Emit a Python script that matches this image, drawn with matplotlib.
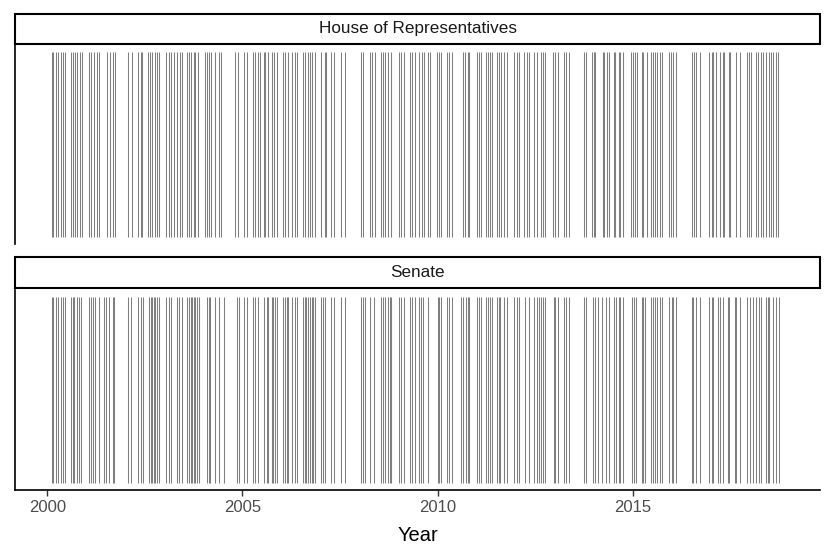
import matplotlib.pyplot as plt
from matplotlib.patches import Rectangle

plt.rcParams['font.family'] = ['Liberation Sans', 'DejaVu Sans']

# session days, as decimal years
house_days = [
    2000.11, 2000.15, 2000.22, 2000.28, 2000.35, 2000.39, 2000.46,
    2000.60, 2000.65, 2000.71, 2000.77, 2000.83, 2000.88,
    2001.07, 2001.13, 2001.20, 2001.26, 2001.33,
    2001.54, 2001.60, 2001.67, 2001.73,
    2002.07, 2002.16, 2002.33, 2002.39, 2002.43,
    2002.58, 2002.63, 2002.69, 2002.76, 2002.81, 2002.87,
    2003.05, 2003.11, 2003.18, 2003.24, 2003.32, 2003.39, 2003.44,
    2003.58, 2003.62, 2003.69, 2003.75, 2003.79, 2003.86,
    2004.05, 2004.09, 2004.15, 2004.20, 2004.30, 2004.39, 2004.46,
    2004.81, 2004.88,
    2005.04, 2005.11, 2005.28, 2005.32, 2005.39, 2005.45,
    2005.54, 2005.58, 2005.65, 2005.75, 2005.82, 2005.88,
    2006.05, 2006.10, 2006.17, 2006.28, 2006.34, 2006.39,
    2006.54, 2006.60, 2006.67, 2006.73, 2006.79, 2006.85,
    2007.02, 2007.11, 2007.15, 2007.28, 2007.35, 2007.52, 2007.62,
    2008.03, 2008.09, 2008.26, 2008.32, 2008.39, 2008.55, 2008.60,
    2008.64, 2008.73, 2008.81,
    2009.00, 2009.06, 2009.13, 2009.28, 2009.34, 2009.41, 2009.53,
    2009.59, 2009.66, 2009.76, 2009.81,
    2009.98, 2010.04, 2010.08, 2010.24, 2010.30, 2010.36,
    2010.64, 2010.70, 2010.77, 2010.81,
    2011.00, 2011.06, 2011.10, 2011.23, 2011.28, 2011.34, 2011.40,
    2011.51, 2011.57, 2011.63, 2011.70, 2011.77,
    2011.97, 2012.04, 2012.08, 2012.21, 2012.28, 2012.34,
    2012.48, 2012.55, 2012.64, 2012.70, 2012.76,
    2012.96, 2013.02, 2013.08, 2013.23, 2013.30, 2013.36,
    2013.74, 2013.81, 2013.95, 2014.00, 2014.04,
    2014.23, 2014.27, 2014.34, 2014.38,
    2014.51, 2014.55, 2014.64, 2014.68, 2014.76,
    2014.95, 2015.00, 2015.06, 2015.10, 2015.23, 2015.27, 2015.36,
    2015.46, 2015.51, 2015.57, 2015.61, 2015.70, 2015.74,
    2015.94, 2015.98, 2016.04, 2016.12,
    2016.51, 2016.56, 2016.61, 2016.73,
    2016.96, 2017.02, 2017.07, 2017.14, 2017.23, 2017.31, 2017.35,
    2017.47, 2017.50, 2017.64, 2017.74,
    2017.93, 2017.98, 2018.04, 2018.16, 2018.21, 2018.29, 2018.34,
    2018.42, 2018.49, 2018.55, 2018.60, 2018.67, 2018.72,
]

senate_days = [
    2000.11, 2000.15, 2000.22, 2000.26, 2000.35, 2000.39, 2000.46,
    2000.60, 2000.65, 2000.69, 2000.75, 2000.80, 2000.86,
    2001.07, 2001.11, 2001.17, 2001.22, 2001.33,
    2001.45, 2001.50, 2001.58, 2001.67, 2001.71,
    2002.07, 2002.14, 2002.33, 2002.39, 2002.45,
    2002.60, 2002.65, 2002.69, 2002.73, 2002.77, 2002.81, 2002.86,
    2003.05, 2003.11, 2003.18, 2003.32, 2003.37, 2003.44,
    2003.58, 2003.62, 2003.67, 2003.71, 2003.75, 2003.79, 2003.83, 2003.88,
    2004.09, 2004.13, 2004.18, 2004.30, 2004.39, 2004.52,
    2004.85, 2004.90,
    2005.05, 2005.11, 2005.28, 2005.32, 2005.39,
    2005.56, 2005.62, 2005.66, 2005.75, 2005.79, 2005.83, 2005.88,
    2006.05, 2006.09, 2006.13, 2006.17, 2006.28, 2006.34, 2006.39,
    2006.56, 2006.60, 2006.64, 2006.68, 2006.73, 2006.77, 2006.81, 2006.85,
    2007.02, 2007.07, 2007.11, 2007.28, 2007.35, 2007.52, 2007.62,
    2008.03, 2008.09, 2008.13, 2008.28, 2008.38, 2008.55, 2008.60,
    2008.64, 2008.72, 2008.77, 2008.81,
    2009.00, 2009.06, 2009.13, 2009.28, 2009.34, 2009.41, 2009.53,
    2009.57, 2009.62, 2009.76,
    2010.00, 2010.04, 2010.08, 2010.24, 2010.30, 2010.36,
    2010.61, 2010.66, 2010.72, 2010.77, 2010.81,
    2011.02, 2011.06, 2011.10, 2011.23, 2011.28, 2011.34, 2011.40,
    2011.51, 2011.57, 2011.61, 2011.70, 2011.77,
    2011.97, 2012.04, 2012.08, 2012.25, 2012.34,
    2012.48, 2012.55, 2012.59, 2012.64, 2012.70, 2012.76,
    2012.98, 2013.02, 2013.08, 2013.23, 2013.30, 2013.36,
    2013.74, 2013.81, 2013.98, 2014.04, 2014.10,
    2014.21, 2014.32, 2014.38,
    2014.51, 2014.57, 2014.64, 2014.68, 2014.74,
    2014.97, 2015.03, 2015.08, 2015.23, 2015.27, 2015.31,
    2015.46, 2015.51, 2015.57, 2015.61, 2015.70, 2015.74,
    2015.94, 2016.00, 2016.04, 2016.12,
    2016.51, 2016.55, 2016.61, 2016.73,
    2016.96, 2017.02, 2017.06, 2017.19, 2017.23, 2017.31,
    2017.44, 2017.48, 2017.61, 2017.65, 2017.74,
    2017.93, 2018.00, 2018.08, 2018.16, 2018.23, 2018.29,
    2018.42, 2018.46, 2018.50, 2018.59, 2018.67, 2018.74,
]

chambers = ['House of Representatives', 'Senate']
year_ticks = [2000, 2005, 2010, 2015]

W, H = 830, 554
fig = plt.figure(figsize=(W / 100, H / 100), dpi=100)

# panel boxes in pixels: (top, bottom) of strip and of panel
strips = [(14, 44), (257, 288)]
panels = [(45, 244), (290, 490)]
left, right = 15, 820

for i, (days, name) in enumerate(zip([house_days, senate_days], chambers)):
    ptop, pbot = panels[i]
    ax = fig.add_axes([left / W, 1 - pbot / H, (right - left) / W, (pbot - ptop) / H])
    ax.vlines(days, 0, 1, color='#7f7f7f', linewidth=0.75)
    ax.set_xlim(1999.17, 2019.8)
    ax.set_ylim(-0.04, 1.04)
    ax.set_yticks([])
    for s in ['top', 'right']:
        ax.spines[s].set_visible(False)
    ax.spines['left'].set_linewidth(1.2)
    ax.spines['bottom'].set_linewidth(1.2)
    if i == 0:
        ax.spines['bottom'].set_visible(False)
        ax.set_xticks([])
    else:
        ax.set_xticks(year_ticks)
        ax.tick_params(axis='x', length=4, width=1.0, color='#333333',
                       labelsize=12, labelcolor='#4d4d4d', pad=3)
        ax.set_xlabel('Year', fontsize=14.5, labelpad=8)

    stop, sbot = strips[i]
    fig.patches.append(Rectangle((left / W, 1 - sbot / H), (right - left) / W,
                                 (sbot - stop) / H, transform=fig.transFigure,
                                 facecolor='white', edgecolor='black', linewidth=1.5))
    fig.text((left + right) / 2 / W, 1 - (stop + sbot) / 2 / H, name,
             ha='center', va='center', fontsize=12.3, color='#1a1a1a')

fig.savefig('out.png', dpi=100)
